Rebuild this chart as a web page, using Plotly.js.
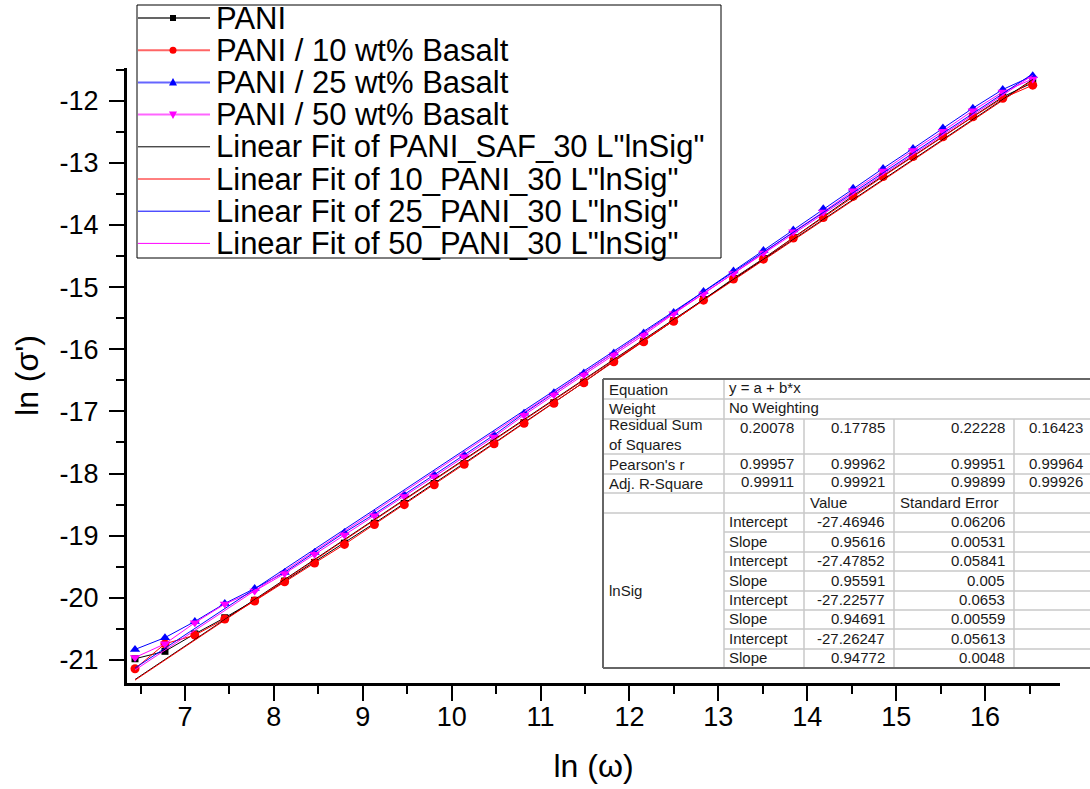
<!DOCTYPE html>
<html>
<head>
<meta charset="utf-8">
<script src="https://cdn.plot.ly/plotly-3.0.1.min.js"></script>
<style>html,body{margin:0;padding:0;background:#fff;}#chart{width:1090px;height:789px;}</style>
</head>
<body>
<div id="chart"></div>
<script>
// ---------------- data ----------------
const xLnOmega = [6.438, 6.775, 7.111, 7.448, 7.784, 8.121, 8.458, 8.794, 9.131, 9.467,
  9.804, 10.141, 10.477, 10.814, 11.150, 11.487, 11.824, 12.160, 12.497, 12.833,
  13.170, 13.507, 13.843, 14.180, 14.516, 14.853, 15.190, 15.526, 15.863, 16.199, 16.536];

const yPANI = [-20.98, -20.86, -20.58, -20.32, -20.04, -19.73, -19.43, -19.12, -18.80, -18.48,
  -18.16, -17.84, -17.51, -17.18, -16.86, -16.53, -16.19, -15.87, -15.54, -15.20,
  -14.86, -14.54, -14.20, -13.87, -13.53, -13.21, -12.89, -12.57, -12.25, -11.94, -11.71];

const yBasalt10 = [-21.14, -20.74, -20.60, -20.34, -20.05, -19.74, -19.44, -19.14, -18.82, -18.50,
  -18.18, -17.85, -17.52, -17.19, -16.87, -16.54, -16.20, -15.88, -15.55, -15.21,
  -14.87, -14.55, -14.21, -13.88, -13.54, -13.22, -12.90, -12.58, -12.26, -11.96, -11.75];

const yBasalt25 = [-20.83, -20.64, -20.38, -20.09, -19.85, -19.59, -19.27, -18.95, -18.65, -18.34,
  -18.02, -17.70, -17.38, -17.03, -16.70, -16.38, -16.06, -15.74, -15.41, -15.07,
  -14.74, -14.41, -14.08, -13.74, -13.41, -13.09, -12.77, -12.44, -12.12, -11.82, -11.60];

const yBasalt50 = [-20.96, -20.74, -20.40, -20.10, -19.89, -19.61, -19.30, -18.99, -18.68, -18.37,
  -18.05, -17.73, -17.41, -17.06, -16.73, -16.41, -16.09, -15.77, -15.43, -15.11,
  -14.78, -14.45, -14.11, -13.79, -13.45, -13.13, -12.80, -12.49, -12.16, -11.86, -11.65];

const seriesNames = ['PANI', 'PANI / 10 wt% Basalt', 'PANI / 25 wt% Basalt', 'PANI / 50 wt% Basalt'];
const fitNames = ['Linear Fit of PANI_SAF_30 L"lnSig"', 'Linear Fit of 10_PANI_30 L"lnSig"',
  'Linear Fit of 25_PANI_30 L"lnSig"', 'Linear Fit of 50_PANI_30 L"lnSig"'];

const fitIntercept = [-27.46946, -27.47852, -27.22577, -27.26247];
const fitSlope = [0.95616, 0.95591, 0.94691, 0.94772];

const xTickVals = [7, 8, 9, 10, 11, 12, 13, 14, 15, 16];
const xTickText = ['7', '8', '9', '10', '11', '12', '13', '14', '15', '16'];
const yTickVals = [-21, -20, -19, -18, -17, -16, -15, -14, -13, -12];
const yTickText = ['-21', '-20', '-19', '-18', '-17', '-16', '-15', '-14', '-13', '-12'];

// fit report table text
const tblRSS = ['0.20078', '0.17785', '0.22228', '0.16423'];
const tblPearson = ['0.99957', '0.99962', '0.99951', '0.99964'];
const tblAdjR2 = ['0.99911', '0.99921', '0.99899', '0.99926'];
const tblParamNames = ['Intercept', 'Slope', 'Intercept', 'Slope', 'Intercept', 'Slope', 'Intercept', 'Slope'];
const tblParamValues = ['-27.46946', '0.95616', '-27.47852', '0.95591', '-27.22577', '0.94691', '-27.26247', '0.94772'];
const tblParamErrors = ['0.06206', '0.00531', '0.05841', '0.005', '0.0653', '0.00559', '0.05613', '0.0048'];

// ---------------- styles ----------------
const FONT = 'Liberation Sans, Arial, sans-serif';
const colors = ['#000000', '#ff0000', '#0000ff', '#ff00ff'];
const symbols = ['square', 'circle', 'triangle-up', 'triangle-down'];
const msizes = [7, 9, 9, 9];
const seriesY = [yPANI, yBasalt10, yBasalt25, yBasalt50];

const traces = [];
seriesY.forEach((ys, k) => {
  traces.push({
    type: 'scatter', mode: 'lines+markers', name: seriesNames[k],
    x: xLnOmega, y: ys,
    line: {color: colors[k], width: 1},
    marker: {color: colors[k], symbol: symbols[k], size: msizes[k], line: {width: 0}}
  });
});
const xEnds = [xLnOmega[0], xLnOmega[xLnOmega.length - 1]];
fitIntercept.forEach((a, k) => {
  traces.push({
    type: 'scatter', mode: 'lines', name: fitNames[k],
    x: xEnds, y: xEnds.map(x => a + fitSlope[k] * x),
    line: {color: colors[k], width: 1}
  });
});

// ---------------- layout helpers (pixel -> paper) ----------------
const ML = 127, MT = 68, PW = 933, PH = 615;
const px = x => (x - ML) / PW;
const py = y => (MT + PH - y) / PH;

const shapes = [];
const annotations = [];

// custom legend (Origin-style box)
shapes.push({type: 'rect', xref: 'paper', yref: 'paper', x0: px(137), x1: px(721), y0: py(5), y1: py(258),
  fillcolor: '#ffffff', line: {color: '#000', width: 1}, layer: 'above'});
const legendNames = seriesNames.concat(fitNames);
legendNames.forEach((name, k) => {
  const yy = 18 + 32.2 * k;
  const c = colors[k % 4];
  const isData = k < 4;
  shapes.push({type: 'line', xref: 'paper', yref: 'paper', x0: px(138), x1: px(210), y0: py(yy), y1: py(yy),
    line: {color: c, width: isData ? 2 : 1}, opacity: isData ? 0.6 : 1, layer: 'above'});
  if (isData) {
    const cx = 173;
    let path;
    if (k === 0) path = `M${px(cx-3)},${py(yy-3)} L${px(cx+3)},${py(yy-3)} L${px(cx+3)},${py(yy+3)} L${px(cx-3)},${py(yy+3)} Z`;
    if (k === 1) {
      shapes.push({type: 'circle', xref: 'paper', yref: 'paper', x0: px(cx-3.5), x1: px(cx+3.5), y0: py(yy-3.5), y1: py(yy+3.5),
        fillcolor: c, line: {width: 0}, layer: 'above'});
    }
    if (k === 2) path = `M${px(cx)},${py(yy-4.5)} L${px(cx+4)},${py(yy+3)} L${px(cx-4)},${py(yy+3)} Z`;
    if (k === 3) path = `M${px(cx)},${py(yy+4.5)} L${px(cx+4)},${py(yy-3)} L${px(cx-4)},${py(yy-3)} Z`;
    if (path) shapes.push({type: 'path', xref: 'paper', yref: 'paper', path: path, fillcolor: c, line: {width: 0}, layer: 'above'});
  }
  annotations.push({xref: 'paper', yref: 'paper', x: px(214), y: py(yy), xanchor: 'left', yanchor: 'middle',
    text: name, showarrow: false, font: {family: FONT, size: 31, color: '#000'}});
});

// fit report table
const cols = [603, 724, 804, 894, 1014, 1090];
const rows = [379, 399, 419, 454, 474, 493, 513, 532, 552, 571, 591, 610, 629, 649, 668];
shapes.push({type: 'rect', xref: 'paper', yref: 'paper', x0: px(cols[0]), x1: px(cols[5]), y0: py(rows[0]), y1: py(rows[14]),
  fillcolor: '#ffffff', line: {width: 0}, layer: 'above'});
const inner = {color: '#c8c8c8', width: 1.5};
const outer = {color: '#666666', width: 2};
function hline(y, x0, x1, ln) {
  shapes.push({type: 'line', xref: 'paper', yref: 'paper', x0: px(x0), x1: px(x1), y0: py(y), y1: py(y), line: ln, layer: 'above'});
}
function vline(x, y0, y1, ln) {
  shapes.push({type: 'line', xref: 'paper', yref: 'paper', x0: px(x), x1: px(x), y0: py(y0), y1: py(y1), line: ln, layer: 'above'});
}
for (let r = 1; r <= 6; r++) hline(rows[r], cols[0], cols[5], inner);
for (let r = 7; r <= 13; r++) hline(rows[r], cols[1], cols[5], inner);
vline(cols[1], rows[0], rows[14], inner);
vline(cols[2], rows[2], rows[14], inner);
vline(cols[3], rows[2], rows[14], inner);
vline(cols[4], rows[2], rows[14], inner);
hline(rows[0], cols[0], cols[5], outer);
hline(rows[14], cols[0], cols[5], outer);
vline(cols[0], rows[0], rows[14], outer);

function cell(text, xpix, ypix, anchor) {
  annotations.push({xref: 'paper', yref: 'paper', x: px(xpix), y: py(ypix), xanchor: anchor, yanchor: 'middle',
    text: text, showarrow: false, align: 'left', font: {family: FONT, size: 15, color: '#1a1a1a'}});
}
const rEdge = [cols[2] - 8, cols[3] - 7, cols[4] - 7, cols[5] - 5];
cell('Equation', 607, 389, 'left');
cell('y = a + b*x', 727, 388, 'left');
cell('Weight', 607, 408, 'left');
cell('No Weighting', 727, 407, 'left');
cell('Residual Sum<br>of Squares', 607, 435, 'left');
tblRSS.forEach((t, k) => cell(t, rEdge[k], 427, 'right'));
cell("Pearson's r", 607, 464, 'left');
tblPearson.forEach((t, k) => cell(t, rEdge[k], 463, 'right'));
cell('Adj. R-Square', 607, 483, 'left');
tblAdjR2.forEach((t, k) => cell(t, rEdge[k], 482, 'right'));
cell('Value', 808, 502, 'left');
cell('Standard Error', 898, 502, 'left');
cell('lnSig', 607, 590, 'left');
tblParamNames.forEach((t, k) => {
  const yc = (rows[6 + k] + rows[7 + k]) / 2 - 1;
  cell(t, 727, yc, 'left');
  cell(tblParamValues[k], rEdge[1], yc, 'right');
  cell(tblParamErrors[k], rEdge[2], yc, 'right');
});

const axisCommon = {
  showline: true, linecolor: '#000', linewidth: 3, mirror: false,
  showgrid: false, zeroline: false,
  ticks: 'outside', ticklen: 15, tickwidth: 2, tickcolor: '#000',
  tickmode: 'array',
  tickfont: {family: FONT, size: 27, color: '#000'}
};

const layout = {
  width: 1090, height: 789,
  margin: {l: ML, r: 1090 - ML - PW, t: MT, b: 789 - MT - PH, pad: 0},
  paper_bgcolor: '#fff', plot_bgcolor: '#fff',
  showlegend: false,
  xaxis: Object.assign({}, axisCommon, {
    range: [6.348, 16.843], tickvals: xTickVals, ticktext: xTickText,
    ticklabelstandoff: -7,
    minor: {tickmode: 'linear', tick0: 6.5, dtick: 1, ticks: 'outside', ticklen: 8, tickwidth: 2, tickcolor: '#000', showgrid: false},
    title: {text: 'ln (\u03c9)', font: {family: FONT, size: 32, color: '#000'}, standoff: 24}
  }),
  yaxis: Object.assign({}, axisCommon, {
    range: [-21.37, -11.474], tickvals: yTickVals, ticktext: yTickText,
    ticklabelstandoff: 5,
    minor: {tickmode: 'linear', tick0: -20.5, dtick: 1, ticks: 'outside', ticklen: 8, tickwidth: 2, tickcolor: '#000', showgrid: false},
    title: {text: "ln (\u03c3')", font: {family: FONT, size: 32, color: '#000'}, standoff: 12}
  }),
  shapes: shapes,
  annotations: annotations
};

Plotly.newPlot('chart', traces, layout, {displayModeBar: false, staticPlot: true});
</script>
</body>
</html>
